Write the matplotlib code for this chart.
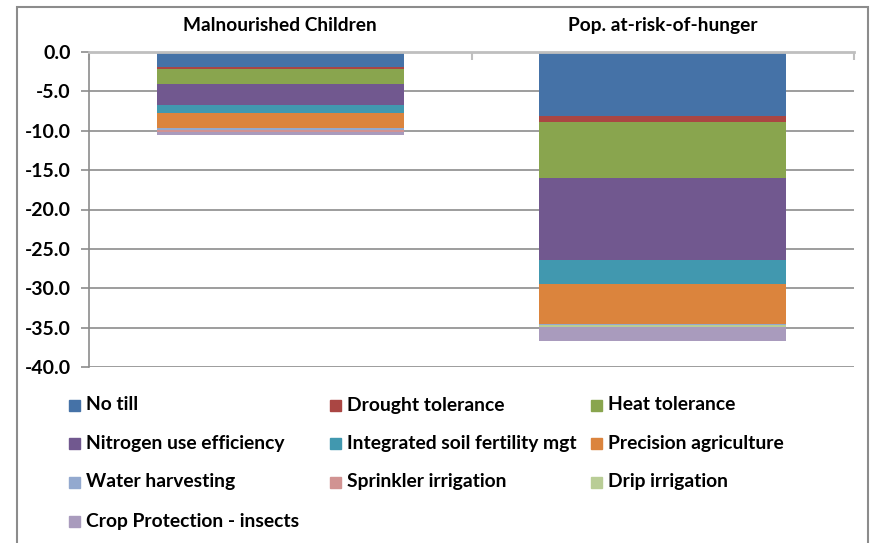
import numpy as np
import matplotlib
matplotlib.use('Agg')
import matplotlib.pyplot as plt
from matplotlib.patches import Rectangle

categories = ['Malnourished Children', 'Pop. at-risk-of-hunger']
series = ['No till', 'Drought tolerance', 'Heat tolerance',
          'Nitrogen use efficiency', 'Integrated soil fertility mgt',
          'Precision agriculture', 'Water harvesting', 'Sprinkler irrigation',
          'Drip irrigation', 'Crop Protection - insects']
children = [-1.95, -0.25, -1.85, -2.7, -1.05, -1.85, -0.25, -0.2, -0.12, -0.3]
hunger = [-8.1, -0.76, -7.2, -10.4, -3.05, -5.05, -0.1, -0.05, -0.2, -1.85]
colors = ['#4572A7', '#AA4643', '#89A54E', '#71588F', '#4198AF',
          '#DB843D', '#93A9CF', '#D19392', '#B9CD96', '#A99BBD']

plt.rcParams['font.family'] = ['Lato', 'DejaVu Sans']
plt.rcParams['font.weight'] = 'bold'

fig = plt.figure(figsize=(8.71, 5.43), dpi=100)
W, H = 871, 543
ax = fig.add_axes([89 / W, 1 - 367 / H, (854 - 89) / W, (367 - 52) / H])

vals = np.array([children, hunger])
x = np.arange(len(categories))
bottom = np.zeros(len(categories))
for i, name in enumerate(series):
    ax.bar(x, vals[:, i], 0.646, bottom=bottom, color=colors[i],
           edgecolor='none', zorder=3)
    bottom += vals[:, i]

ax.set_xlim(-0.5, 1.5)
ax.set_ylim(-40, 0)
ax.set_yticks(np.arange(0, -41, -5))
ax.set_yticklabels(['%.1f' % v for v in np.arange(0, -41, -5)])
ax.yaxis.grid(True, color='#8C8C8C', lw=1.2, zorder=0)
ax.tick_params(axis='y', length=6, width=1.2, color='#8C8C8C', pad=7,
               labelsize=14)

ax.xaxis.tick_top()
ax.set_xticks(x)
ax.set_xticklabels(categories, fontsize=13.8)
ax.tick_params(axis='x', length=0, pad=13)
ax.set_xticks([-0.5, 0.5, 1.5], minor=True)
ax.tick_params(axis='x', which='minor', direction='in', length=6,
               color='#BFBFBF', width=1.5)

for s in ['right', 'bottom']:
    ax.spines[s].set_visible(False)
ax.spines['left'].set_color('#8C8C8C')
ax.spines['left'].set_linewidth(1.2)
ax.spines['top'].set_color('#BFBFBF')
ax.spines['top'].set_linewidth(2)
ax.spines['top'].set_zorder(4)

# chart border
fig.patches.append(Rectangle((17 / W, -0.05), (868 - 17) / W, 1.05 - 7 / H,
                             transform=fig.transFigure, fill=False,
                             edgecolor='#8C8C8C', lw=1.5))

# legend, row-major like Excel
col_x = [69, 330, 591]
row_y = [405, 443, 482, 521]
for i, name in enumerate(series):
    r, c = divmod(i, 3)
    cx, cy = col_x[c], row_y[r]
    fig.patches.append(Rectangle((cx / W, 1 - (cy + 5.5) / H), 11 / W, 11 / H,
                                 transform=fig.transFigure, color=colors[i]))
    fig.text((cx + 17) / W, 1 - cy / H, name, fontsize=13.9, va='center',
             ha='left')

fig.savefig('out.png', dpi=100)
